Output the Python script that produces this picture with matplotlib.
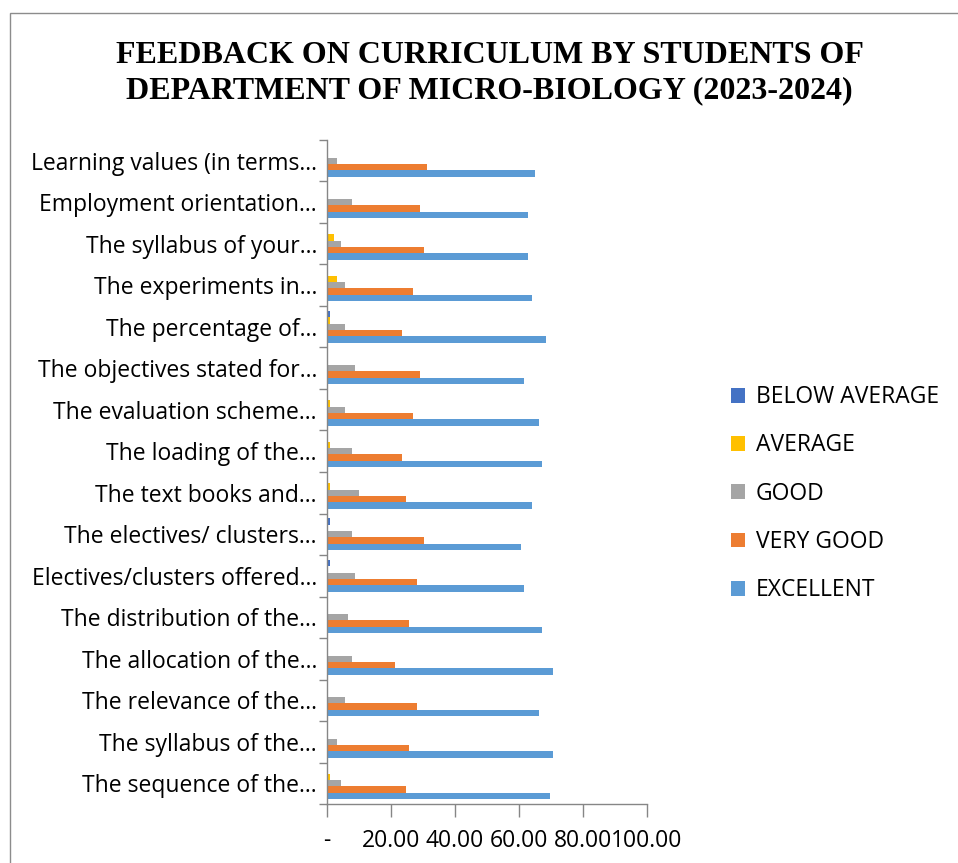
import numpy as np
import matplotlib
matplotlib.use("Agg")
import matplotlib.pyplot as plt
from matplotlib.patches import Rectangle

# dane (procent odpowiedzi), kategorie od gory do dolu
categories = [
    "Learning values (in terms\u2026",
    "Employment orientation\u2026",
    "The syllabus of your\u2026",
    "The experiments in\u2026",
    "The percentage of\u2026",
    "The objectives stated for\u2026",
    "The evaluation scheme\u2026",
    "The loading of the\u2026",
    "The text books and\u2026",
    "The electives/ clusters\u2026",
    "Electives/clusters offered\u2026",
    "The distribution of the\u2026",
    "The allocation of the\u2026",
    "The relevance of the\u2026",
    "The syllabus of the\u2026",
    "The sequence of the\u2026",
]
below_average = [0, 0, 0, 0, 1.12, 0, 0, 0, 0, 1.12, 1.12, 0, 0, 0, 0, 0]
average = [0, 0, 2.25, 3.37, 1.12, 0, 1.12, 1.12, 1.12, 0, 0, 0, 0, 0, 0, 1.12]
good = [3.37, 7.87, 4.49, 5.62, 5.62, 8.99, 5.62, 7.87, 10.11, 7.87, 8.99, 6.74, 7.87, 5.62, 3.37, 4.49]
very_good = [31.46, 29.21, 30.34, 26.97, 23.60, 29.21, 26.97, 23.60, 24.72, 30.34, 28.09, 25.84, 21.35, 28.09, 25.84, 24.72]
excellent = [65.17, 62.92, 62.92, 64.04, 68.54, 61.80, 66.29, 67.42, 64.04, 60.67, 61.80, 67.42, 70.79, 66.29, 70.79, 69.66]

series = [
    ("BELOW AVERAGE", below_average, "#4472C4"),
    ("AVERAGE", average, "#FFC000"),
    ("GOOD", good, "#A5A5A5"),
    ("VERY GOOD", very_good, "#ED7D31"),
    ("EXCELLENT", excellent, "#5B9BD5"),
]

W, H = 958, 863
fig = plt.figure(figsize=(W / 100, H / 100), dpi=100)
ax = fig.add_axes([326.7 / W, 1 - 804 / H, 320 / W, 664 / H])

font = "Open Sans"
fs = 16.5
n = len(categories)
y = np.arange(n)  # 0 = gora
bh = 0.153
# kolejnosc w grupie: EXCELLENT na dole, BELOW AVERAGE na gorze
handles = []
for k, (name, vals, col) in enumerate(series):
    offset = (k - 2) * bh
    b = ax.barh(y + offset, vals, height=bh, color=col, label=name)
    handles.append(b)

ax.set_xlim(0, 100)
ax.set_ylim(n - 0.5, -0.5)

ax.set_xticks([0, 20, 40, 60, 80, 100])
ax.set_xticklabels(["-", "20.00", "40.00", "60.00", "80.00", "100.00"],
                   fontsize=fs, family=font)
ax.tick_params(axis="x", length=9, width=1, color="#868686", pad=9)

ax.set_yticks(y)
ax.set_yticklabels(categories, fontsize=fs, family=font)
ax.set_yticks(np.arange(n + 1) - 0.5, minor=True)
ax.tick_params(axis="y", which="major", length=0, pad=7)
ax.tick_params(axis="y", which="minor", length=6, width=1, color="#868686")

for s in ["top", "right"]:
    ax.spines[s].set_visible(False)
for s in ["left", "bottom"]:
    ax.spines[s].set_color("#868686")
    ax.spines[s].set_linewidth(1)

leg = fig.legend(handles=handles, loc="upper left",
                 bbox_to_anchor=(722 / W, 1 - 376 / H),
                 frameon=False, prop={"family": font, "size": fs},
                 handlelength=0.62, handleheight=0.62, handletextpad=0.45,
                 labelspacing=1.06, borderaxespad=0)

fig.text(489.5 / W, 1 - 73 / H,
         "FEEDBACK ON CURRICULUM BY STUDENTS OF\nDEPARTMENT OF MICRO-BIOLOGY (2023-2024)",
         ha="center", va="center", fontsize=23.0, fontweight="bold",
         family="Liberation Serif", linespacing=1.25)

# ramka wykresu (przycieta z prawej i z dolu)
fig.patches.append(Rectangle((10 / W, -0.1), 1.2, 1 - 13 / H + 0.1,
                             transform=fig.transFigure, fill=False,
                             edgecolor="#8c8c8c", linewidth=1))

fig.savefig("out.png", dpi=100)
